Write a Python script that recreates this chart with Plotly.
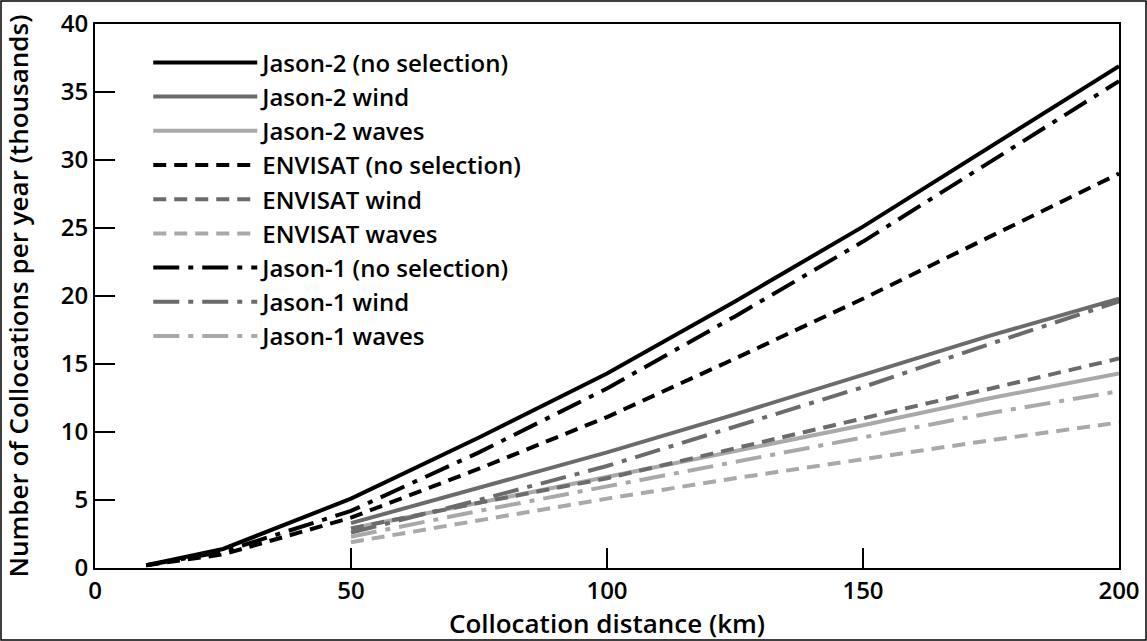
import plotly.graph_objects as go

# Collocation distance (km)
x_all = [10, 25, 50, 75, 100, 125, 150, 175, 200]
x_sel = [50, 75, 100, 125, 150, 175, 200]

# Collocations per year (thousands)
jason2_nosel = [0.2, 1.4, 5.1, 9.6, 14.3, 19.6, 25.1, 31.0, 36.9]
jason2_wind = [3.3, 5.9, 8.5, 11.3, 14.2, 17.1, 19.8]
jason2_waves = [2.9, 4.8, 6.7, 8.6, 10.5, 12.5, 14.3]
envisat_nosel = [0.2, 1.0, 3.7, 7.3, 11.1, 15.4, 19.8, 24.4, 29.0]
envisat_wind = [2.9, 4.8, 6.6, 8.8, 11.0, 13.2, 15.4]
envisat_waves = [1.9, 3.5, 5.1, 6.6, 8.0, 9.4, 10.7]
jason1_nosel = [0.2, 1.2, 4.2, 8.5, 13.2, 18.5, 24.0, 29.9, 35.8]
jason1_wind = [2.6, 5.0, 7.5, 10.4, 13.3, 16.5, 19.6]
jason1_waves = [2.3, 4.2, 6.0, 7.8, 9.6, 11.4, 13.0]

BLACK = "#000000"
DARK = "#6b6b6b"
LIGHT = "#a9a9a9"
DASH = "13px,8px"
DASHDOT = "26px,9px,5px,9px"

series = [
    ("Jason-2 (no selection)", x_all, jason2_nosel, BLACK, "solid"),
    ("Jason-2 wind", x_sel, jason2_wind, DARK, "solid"),
    ("Jason-2 waves", x_sel, jason2_waves, LIGHT, "solid"),
    ("ENVISAT (no selection)", x_all, envisat_nosel, BLACK, DASH),
    ("ENVISAT wind", x_sel, envisat_wind, DARK, DASH),
    ("ENVISAT waves", x_sel, envisat_waves, LIGHT, DASH),
    ("Jason-1 (no selection)", x_all, jason1_nosel, BLACK, DASHDOT),
    ("Jason-1 wind", x_sel, jason1_wind, DARK, DASHDOT),
    ("Jason-1 waves", x_sel, jason1_waves, LIGHT, DASHDOT),
]

FONT = "Open Sans"
FW = 600
TICK_FS = 24
LEG_FS = 24
TITLE_FS = 26

fig = go.Figure()
for name, xs, ys, col, dash in series:
    fig.add_trace(go.Scatter(
        x=xs, y=ys, name=name, mode="lines",
        line=dict(color=col, width=4, dash=dash),
    ))

W, H = 1147, 641
L, R, T, B = 95, 28, 24, 73
pw, ph = W - L - R, H - T - B

fig.update_layout(
    width=W, height=H,
    margin=dict(l=L, r=R, t=T, b=B, autoexpand=False),
    paper_bgcolor="white", plot_bgcolor="white",
    font=dict(family=FONT, size=TICK_FS, color="black", weight=FW),
    showlegend=True,
    legend=dict(
        x=0.052, y=0.97, xanchor="left", yanchor="top",
        bgcolor="rgba(0,0,0,0)", borderwidth=0,
        font=dict(family=FONT, size=LEG_FS, color="black", weight=FW),
        itemwidth=104, tracegroupgap=0,
    ),
    xaxis=dict(
        range=[0, 200], dtick=50, tick0=0, automargin=False,
        ticks="inside", ticklen=20, tickwidth=2, tickcolor="black",
        showline=True, linecolor="black", linewidth=2, mirror=True,
        showgrid=False, zeroline=False,
        tickfont=dict(family=FONT, size=TICK_FS, weight=FW),
        title=dict(text="Collocation distance (km)", font=dict(family=FONT, size=TITLE_FS, weight=FW), standoff=13),
    ),
    yaxis=dict(
        range=[0, 40], dtick=5, tick0=0, automargin=False,
        ticks="inside", ticklen=20, tickwidth=2, tickcolor="black",
        showline=True, linecolor="black", linewidth=2, mirror=True,
        showgrid=False, zeroline=False,
        tickfont=dict(family=FONT, size=TICK_FS, weight=FW),
        title=dict(text="Number of Collocations per year (thousands)", font=dict(family=FONT, size=TITLE_FS, weight=FW), standoff=30),
    ),
)

# outer frame around whole figure
fig.add_shape(
    type="rect", xref="paper", yref="paper",
    x0=(1 - L) / pw, x1=(W - 1 - L) / pw,
    y0=(1 - B) / ph, y1=(H - 1 - B) / ph,
    line=dict(color="black", width=1.5), layer="below",
)

fig.write_html("out.html")
